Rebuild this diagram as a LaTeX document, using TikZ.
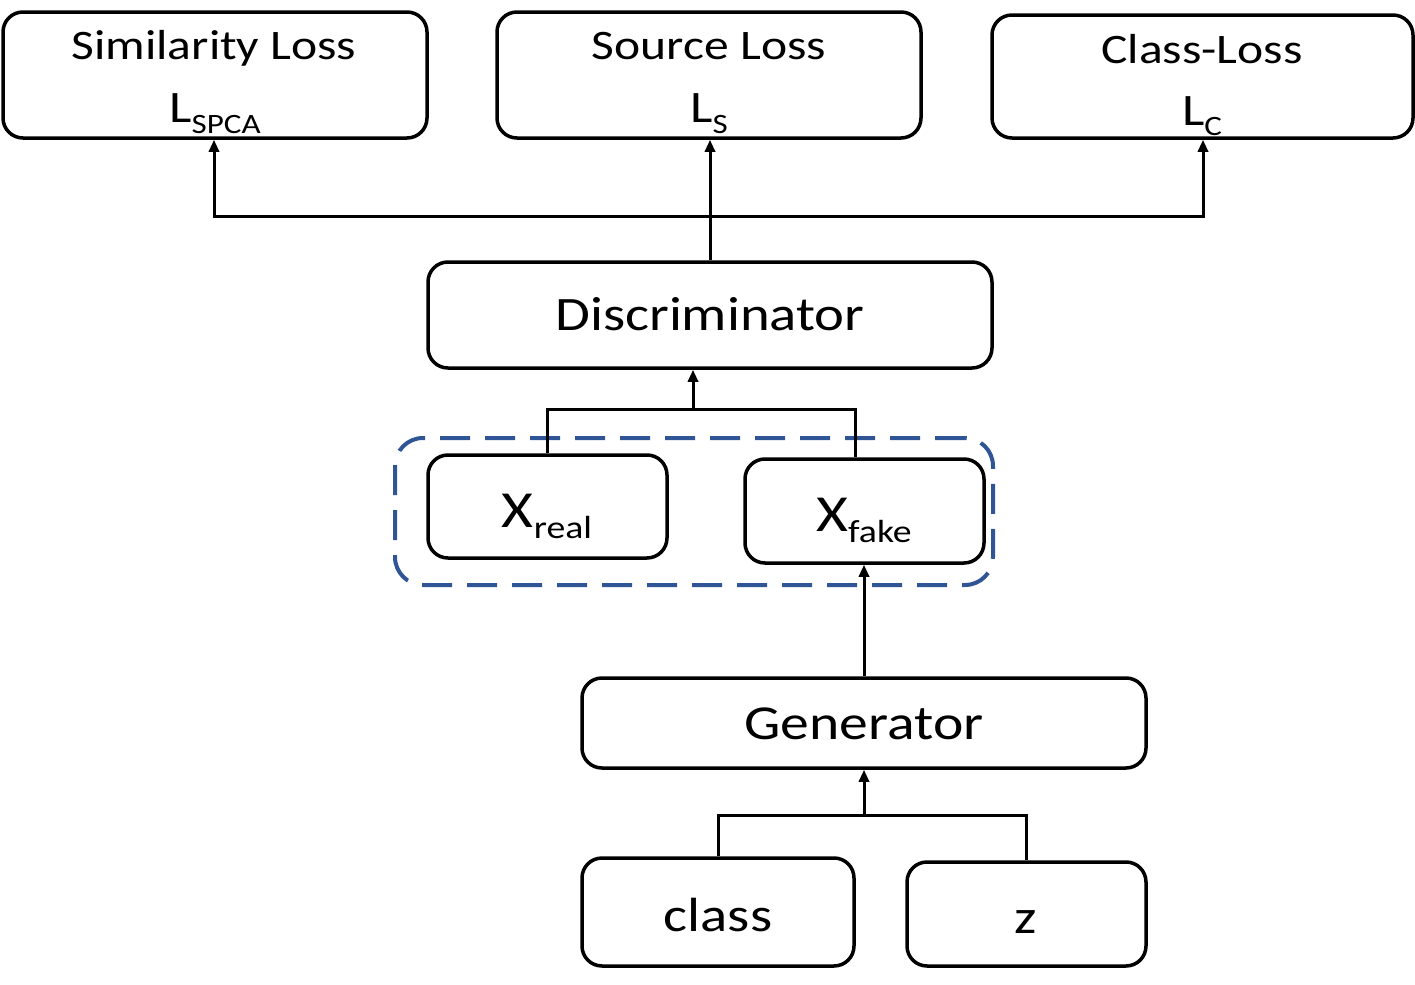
\documentclass[tikz,border=0pt]{standalone}
\usepackage{fontspec}
\setmainfont{Carlito}[FakeStretch=1.18]
\usetikzlibrary{arrows.meta}
\definecolor{dashblue}{HTML}{2F5597}
\tikzset{
  box/.style={draw=black, line width=1.75pt, rounded corners=10pt, inner sep=0pt},
  conn/.style={draw=black, line width=1.5pt},
  arr/.style={conn, -{Triangle[length=6pt,width=5pt]}},
  ttl/.style={font=\fontsize{21}{25}\selectfont, inner sep=0pt, anchor=base},
  lsym/.style={font=\fontsize{22.5}{26}\selectfont, inner sep=0pt, anchor=base},
  big/.style={font=\fontsize{24}{28}\selectfont, inner sep=0pt, anchor=base},
}
\begin{document}
\begin{tikzpicture}[x=0.5pt,y=-0.5pt]
\useasboundingbox (0,0) rectangle (1415,985);
% top boxes
\node[box, minimum width=212pt, minimum height=63pt] (sim) at (215,75) {};
\node[box, minimum width=212pt, minimum height=63pt] (src) at (709,75) {};
\node[box, minimum width=210.5pt, minimum height=61.5pt] (cls) at (1202.5,76.5) {};
\node[ttl] (simt) at (214,60) {Similarity Loss};
\node[lsym] (siml) at (215,122) {L\lower 5.5pt\hbox{\fontsize{14}{15}\selectfont SPCA}};
\node[ttl] (srct) at (709,60) {Source Loss};
\node[lsym] (srcl) at (709,122) {L\lower 5.5pt\hbox{\fontsize{14}{15}\selectfont S}};
\node[ttl] (clst) at (1202,63) {Class-Loss};
\node[lsym] (clsl) at (1202,125) {L\lower 5.5pt\hbox{\fontsize{14}{15}\selectfont C}};
% discriminator
\node[box, minimum width=282pt, minimum height=53pt] (disc) at (710,315) {};
\node[big] (disct) at (710,330) {Discriminator};
% dashed group
\node[draw=dashblue, line width=2pt, dash pattern=on 15pt off 7.5pt, rounded corners=14pt, minimum width=299pt, minimum height=73.5pt, inner sep=0pt] (grp) at (694,511.5) {};
\node[box, minimum width=119.5pt, minimum height=51.5pt] (xr) at (547.5,506.5) {};
\node[box, minimum width=119.5pt, minimum height=52pt] (xf) at (864.5,511) {};
\node[big, font=\fontsize{26}{30}\selectfont] (xrt) at (547,527) {X\lower 5.5pt\hbox{\fontsize{16}{18}\selectfont real}};
\node[big, font=\fontsize{26}{30}\selectfont] (xft) at (864,531) {X\lower 5.5pt\hbox{\fontsize{16}{18}\selectfont fake}};
% generator
\node[box, minimum width=282pt, minimum height=45pt] (gen) at (864,723) {};
\node[big, font=\fontsize{24.4}{28}\selectfont] (gent) at (864,739) {Generator};
% inputs
\node[box, minimum width=136pt, minimum height=54pt] (cl) at (718,912) {};
\node[box, minimum width=119.5pt, minimum height=52pt] (zz) at (1026.5,914) {};
\node[big] (clt) at (718,931) {class};
\node[big] (zt) at (1026,933) {z};
% connectors top
\coordinate (jn) at (710,216);
\draw[arr] (disc.north) -- (disc.north |- src.south);
\draw[arr] (jn) -| (214,0 |- sim.south);
\draw[arr] (jn) -| (1203,0 |- cls.south);
% X merge
\coordinate (jx) at (693,409);
\coordinate (xfin) at (855,409);
\draw[conn] (xr.north) |- (xfin) -- (xfin |- xf.north);
\draw[arr] (jx) -- (jx |- disc.south);
% generator to xfake
\draw[arr] (gen.north) -- (gen.north |- xf.south);
% inputs merge
\coordinate (jg) at (864,815);
\coordinate (zin) at (1026,815);
\draw[conn] (cl.north) |- (zin) -- (zin |- zz.north);
\draw[arr] (jg) -- (jg |- gen.south);
\end{tikzpicture}
\end{document}
